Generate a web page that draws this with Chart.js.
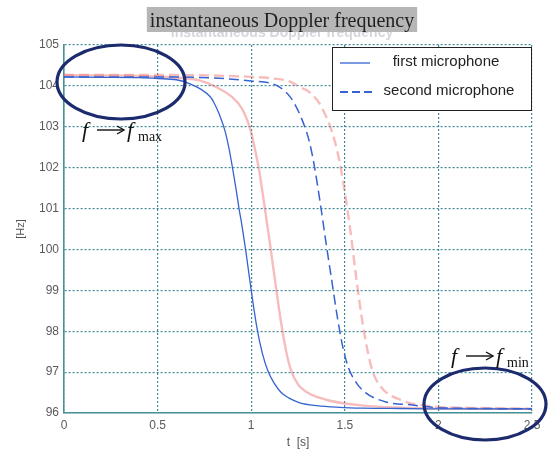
<!DOCTYPE html>
<html>
<head>
<meta charset="utf-8">
<script src="https://cdn.jsdelivr.net/npm/chart.js@4.4.1/dist/chart.umd.min.js"></script>
<style>
  html, body { margin:0; padding:0; background:#fff; }
  #wrap { width:550px; height:454px; position:relative; }
</style>
</head>
<body>
<div id="wrap"><canvas id="chart"></canvas></div>
<script>
// time axis and tick labels
const xTicks = [0, 0.5, 1, 1.5, 2, 2.5];
const yTicks = [96, 97, 98, 99, 100, 101, 102, 103, 104, 105];

// first microphone (blue solid)
const tFirst = [0, 0.2, 0.4, 0.5, 0.6, 0.673, 0.73, 0.78, 0.8, 0.83, 0.86, 0.88, 0.9, 0.92, 0.935, 0.95, 0.97, 0.997, 1.03, 1.06, 1.09, 1.12, 1.16, 1.2, 1.26, 1.35, 1.47, 1.6, 1.8, 2.0, 2.25, 2.5];
const fFirst = [104.22, 104.21, 104.2, 104.18, 104.15, 104.05, 103.92, 103.74, 103.6, 103.3, 102.9, 102.5, 102.0, 101.45, 101.0, 100.6, 100.0, 99.1, 98.1, 97.45, 97.02, 96.75, 96.5, 96.37, 96.25, 96.18, 96.14, 96.12, 96.11, 96.1, 96.1, 96.1];

// first microphone, second trace (red solid)
const tFirstB = [0, 0.3, 0.6, 0.727, 0.8, 0.9, 0.95, 0.98, 1.0, 1.02, 1.04, 1.07, 1.1, 1.13, 1.16, 1.185, 1.21, 1.25, 1.3, 1.36, 1.42, 1.6, 1.8, 2.0, 2.25, 2.5];
const fFirstB = [104.26, 104.25, 104.2, 104.13, 104.0, 103.72, 103.45, 103.15, 102.85, 102.45, 102.0, 101.1, 100.15, 99.15, 98.2, 97.55, 97.08, 96.7, 96.5, 96.38, 96.3, 96.18, 96.13, 96.11, 96.1, 96.1];

// second microphone (blue dashed)
const tSecond = [0, 0.5, 1.0, 1.14, 1.21, 1.25, 1.29, 1.31, 1.335, 1.37, 1.4, 1.43, 1.46, 1.49, 1.52, 1.56, 1.61, 1.72, 1.85, 2.0, 2.25, 2.5];
const fSecond = [104.22, 104.22, 104.12, 104.0, 103.72, 103.4, 102.95, 102.65, 102.1, 101.1, 100.15, 99.25, 98.35, 97.6, 97.1, 96.75, 96.5, 96.27, 96.2, 96.13, 96.11, 96.1];

// second microphone, second trace (red dashed)
const tSecondB = [0, 0.5, 1.0, 1.12, 1.21, 1.26, 1.31, 1.36, 1.4, 1.43, 1.46, 1.48, 1.5, 1.53, 1.56, 1.595, 1.625, 1.65, 1.7, 1.81, 1.9, 2.0, 2.25, 2.5];
const fSecondB = [104.27, 104.27, 104.22, 104.18, 104.1, 103.97, 103.85, 103.6, 103.25, 102.9, 102.4, 101.95, 101.4, 100.45, 99.35, 98.2, 97.45, 97.0, 96.6, 96.3, 96.2, 96.15, 96.12, 96.1];

const pts = (t, f) => t.map((v, i) => ({ x: v, y: f[i] }));

const BLUE = '#3563d2';
const PINK = 'rgba(238,115,115,0.48)';
const GRID = '#3f8a96';

const overlay = {
  id: 'overlay',
  afterDraw(chart) {
    const ctx = chart.ctx;
    ctx.save();
    // faint ghost title under the label box
    ctx.font = 'bold 14px "Liberation Sans"';
    ctx.fillStyle = 'rgba(150,150,168,0.4)';
    ctx.textAlign = 'center';
    ctx.textBaseline = 'middle';
    ctx.fillText('instantaneous Doppler frequency', 282, 33);
    // title with grey box
    ctx.font = '20px "Liberation Serif"';
    const title = 'instantaneous Doppler frequency';
    const w = ctx.measureText(title).width;
    ctx.fillStyle = '#b6b6b6';
    ctx.fillRect(282 - w / 2 - 3, 7, w + 6, 25);
    ctx.fillStyle = '#222';
    ctx.textBaseline = 'alphabetic';
    ctx.fillText(title, 282, 27);

    // legend
    ctx.fillStyle = '#fff';
    ctx.fillRect(332, 47, 200, 64);
    ctx.strokeStyle = '#222';
    ctx.lineWidth = 1;
    ctx.strokeRect(332.5, 47.5, 199, 63);
    ctx.strokeStyle = BLUE;
    ctx.lineWidth = 1.3;
    ctx.beginPath(); ctx.moveTo(340, 63); ctx.lineTo(370, 63); ctx.stroke();
    ctx.lineWidth = 2;
    ctx.setLineDash([8, 4]);
    ctx.beginPath(); ctx.moveTo(340, 92); ctx.lineTo(372, 92); ctx.stroke();
    ctx.setLineDash([]);
    ctx.fillStyle = '#222';
    ctx.font = '15px "Liberation Sans"';
    ctx.textBaseline = 'middle';
    ctx.textAlign = 'center';
    ctx.fillText('first microphone', 446, 62);
    ctx.fillText('second microphone', 449, 91);

    // ellipses
    ctx.strokeStyle = '#1c2a6e';
    ctx.lineWidth = 3.2;
    ctx.beginPath(); ctx.ellipse(121, 82, 64, 37, 0, 0, Math.PI * 2); ctx.stroke();
    ctx.beginPath(); ctx.ellipse(485, 404, 61, 36, 0, 0, Math.PI * 2); ctx.stroke();

    // f -> f_max / f_min
    const note = (x, y, sub) => {
      ctx.textAlign = 'left';
      ctx.textBaseline = 'alphabetic';
      ctx.fillStyle = '#111';
      ctx.font = 'italic 22px "Liberation Serif"';
      ctx.fillText('f', x, y);
      ctx.fillText('f', x + 45, y);
      // arrow
      const ay = y - 7;
      ctx.strokeStyle = '#111';
      ctx.lineWidth = 1.4;
      ctx.beginPath(); ctx.moveTo(x + 15, ay); ctx.lineTo(x + 41, ay); ctx.stroke();
      ctx.beginPath(); ctx.moveTo(x + 35, ay - 4); ctx.lineTo(x + 42, ay); ctx.lineTo(x + 35, ay + 4); ctx.stroke();
      ctx.font = '14px "Liberation Serif"';
      ctx.fillText(sub, x + 56, y + 4);
    };
    note(82, 137, 'max');
    note(451, 363, 'min');
    ctx.restore();
  }
};

new Chart(document.getElementById('chart'), {
  type: 'scatter',
  data: {
    datasets: [
      { label: 'first microphone', data: pts(tFirst, fFirst), borderColor: BLUE, borderWidth: 1.3 },
      { label: 'second microphone', data: pts(tSecond, fSecond), borderColor: BLUE, borderWidth: 1.5, borderDash: [10, 5] },
      { label: 'first B', data: pts(tFirstB, fFirstB), borderColor: PINK, borderWidth: 2.4 },
      { label: 'second B', data: pts(tSecondB, fSecondB), borderColor: PINK, borderWidth: 2.4, borderDash: [10, 5] }
    ].map(d => Object.assign(d, { showLine: true, pointRadius: 0, cubicInterpolationMode: 'monotone', fill: false }))
  },
  options: {
    responsive: true,
    maintainAspectRatio: false,
    animation: false,
    layout: { padding: { top: 45, right: 18, left: 0, bottom: 0 } },
    plugins: { legend: { display: false }, title: { display: false }, tooltip: { enabled: false } },
    scales: {
      x: {
        type: 'linear', min: 0, max: 2.5,
        afterBuildTicks: s => { s.ticks = xTicks.map(v => ({ value: v })); },
        afterFit: s => { s.height = 41; },
        grid: { color: GRID, lineWidth: 1.2, drawTicks: false },
        border: { display: true, color: '#4a9098', width: 1.6, dash: [2, 2] },
        ticks: { color: '#5a5a5a', font: { family: 'Liberation Sans', size: 12 }, padding: 5, maxRotation: 0, callback: v => String(v) },
        title: { display: true, text: 't  [s]', color: '#555', font: { family: 'Liberation Sans', size: 12 }, padding: { top: 0, bottom: 4 } }
      },
      y: {
        type: 'linear', min: 96, max: 105,
        afterBuildTicks: s => { s.ticks = yTicks.map(v => ({ value: v })); },
        afterFit: s => { s.width = 64; },
        grid: { color: GRID, lineWidth: 1.2, drawTicks: false },
        border: { display: true, color: '#4a9098', width: 1.6, dash: [2, 2] },
        ticks: { color: '#5a5a5a', font: { family: 'Liberation Sans', size: 12 }, padding: 5, callback: v => String(v) },
        title: { display: true, text: '[Hz]', color: '#555', font: { family: 'Liberation Sans', size: 11 }, padding: { top: 14, bottom: 0 } }
      }
    }
  },
  plugins: [overlay]
});
</script>
</body>
</html>
